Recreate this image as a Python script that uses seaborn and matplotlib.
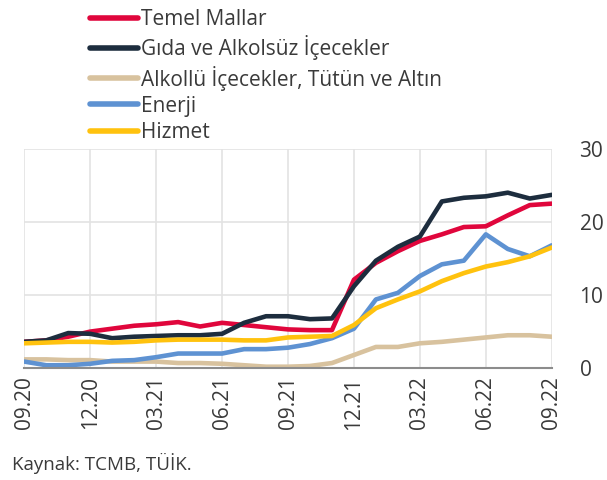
import numpy as np
import pandas as pd
import matplotlib
matplotlib.use("Agg")
import matplotlib.pyplot as plt
import seaborn as sns

# Monthly series, 09.20 - 09.22
months = ["09.20", "10.20", "11.20", "12.20", "01.21", "02.21", "03.21", "04.21", "05.21",
          "06.21", "07.21", "08.21", "09.21", "10.21", "11.21", "12.21", "01.22", "02.22",
          "03.22", "04.22", "05.22", "06.22", "07.22", "08.22", "09.22"]

temel = [3.6, 3.8, 4.3, 5.0, 5.4, 5.8, 6.0, 6.3, 5.7, 6.2, 5.9, 5.6, 5.3, 5.2, 5.2,
         12.1, 14.4, 16.0, 17.4, 18.3, 19.3, 19.4, 20.9, 22.3, 22.5]
gida = [3.6, 3.8, 4.8, 4.7, 4.1, 4.3, 4.4, 4.5, 4.5, 4.7, 6.2, 7.1, 7.1, 6.7, 6.8,
        11.2, 14.7, 16.6, 18.0, 22.8, 23.3, 23.5, 24.0, 23.2, 23.7]
alkollu = [1.2, 1.2, 1.1, 1.1, 0.9, 0.9, 0.9, 0.7, 0.7, 0.6, 0.4, 0.2, 0.2, 0.3, 0.7,
           1.8, 2.9, 2.9, 3.4, 3.6, 3.9, 4.2, 4.5, 4.5, 4.3]
enerji = [0.9, 0.4, 0.4, 0.6, 1.0, 1.1, 1.5, 2.0, 2.0, 2.0, 2.6, 2.6, 2.8, 3.3, 4.1,
          5.4, 9.4, 10.3, 12.6, 14.2, 14.7, 18.3, 16.3, 15.3, 16.8]
hizmet = [3.4, 3.5, 3.6, 3.6, 3.5, 3.6, 3.8, 3.9, 3.9, 3.9, 3.8, 3.8, 4.2, 4.3, 4.4,
          5.9, 8.2, 9.4, 10.5, 11.9, 13.0, 13.9, 14.5, 15.3, 16.5]

names = ["Temel Mallar", "Gıda ve Alkolsüz İçecekler",
         "Alkollü İçecekler, Tütün ve Altın", "Enerji", "Hizmet"]
colors = ["#E0063C", "#1D2D3E", "#D8C29E", "#5E92D2", "#FFC20E"]
series = [temel, gida, alkollu, enerji, hizmet]

frame = pd.DataFrame({
    "t": np.tile(np.arange(len(months)), len(names)),
    "value": np.concatenate(series),
    "group": np.repeat(names, len(months)),
})

sns.set_style("whitegrid")
plt.rcParams["font.family"] = ["Open Sans", "DejaVu Sans"]

fig = plt.figure(figsize=(6.07, 4.8), dpi=100)
ax = fig.add_axes([0.04, 0.233, 0.869, 0.457])

sns.lineplot(data=frame, x="t", y="value", hue="group", hue_order=names,
             palette=colors, linewidth=3.3, ax=ax, legend=False)

ax.set_xlim(0, len(months) - 1)
ax.set_ylim(0, 30)
ax.set_xticks(range(0, len(months), 3))
ax.set_xticklabels(months[::3], rotation=90, fontsize=15, color="#3A3A3A")
ax.set_yticks([0, 10, 20, 30])
ax.yaxis.tick_right()
ax.tick_params(axis="y", labelsize=15, pad=20, length=0, colors="#3A3A3A")
ax.tick_params(axis="x", length=0, pad=6)
ax.set_xlabel("")
ax.set_ylabel("")
ax.grid(True, color="#E3E3E3", linewidth=1.2)
for side in ["top", "left", "right"]:
    ax.spines[side].set_visible(False)
ax.spines["bottom"].set_color("#8C8C8C")
ax.spines["bottom"].set_linewidth(1.5)

handles = [plt.Line2D([], [], color=c, linewidth=4) for c in colors]
fig.legend(handles, names, loc="upper left", bbox_to_anchor=(0.118, 1.02),
           frameon=False, fontsize=15, handlelength=2.3, handletextpad=0.12,
           labelspacing=0.25, labelcolor="#3A3A3A")

fig.text(0.02, 0.02, "Kaynak: TCMB, TÜİK.", fontsize=13.5, color="#3A3A3A")

fig.savefig("out.png", dpi=100)
